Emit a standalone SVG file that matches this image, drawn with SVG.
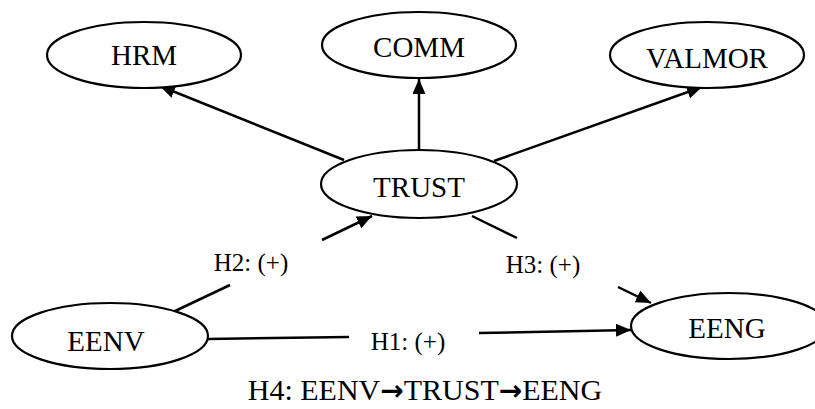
<svg xmlns="http://www.w3.org/2000/svg" width="815" height="409" viewBox="0 0 815 409">
<style>
.node ellipse{fill:#fff;stroke:#000;stroke-width:2.2}
.node text{font-family:"Liberation Serif","Times New Roman",serif;font-size:29px;text-anchor:middle;fill:#000}
.edge line{stroke:#000;stroke-width:2.5}
.lbl{font-family:"Liberation Serif","Times New Roman",serif;font-size:25px;text-anchor:middle;fill:#000}
.cap{font-family:"Liberation Serif","Times New Roman",serif;font-size:30px;text-anchor:middle;fill:#000}
.ar{font-family:"DejaVu Sans",sans-serif;font-weight:bold;font-size:28px}
</style>
<defs>
<marker id="arr" markerUnits="userSpaceOnUse" markerWidth="16" markerHeight="14" refX="15" refY="6.5" orient="auto">
<path d="M0,0 L15,6.5 L0,13 z" fill="#000"/>
</marker>
</defs>
<rect width="815" height="409" fill="#fff"/>
<g id="connectors" class="edge">
<line x1="344" y1="160" x2="160" y2="86" marker-end="url(#arr)"/>
<line x1="419" y1="150" x2="419" y2="79" marker-end="url(#arr)"/>
<line x1="494" y1="161" x2="702" y2="87" marker-end="url(#arr)"/>
<line x1="173" y1="312" x2="230" y2="285"/>
<line x1="322" y1="240" x2="372" y2="216" marker-end="url(#arr)"/>
<line x1="472" y1="216" x2="517" y2="238"/>
<line x1="618" y1="287" x2="651" y2="303" marker-end="url(#arr)"/>
<line x1="208" y1="339" x2="349" y2="337"/>
<line x1="479" y1="333" x2="631" y2="330" marker-end="url(#arr)"/>
</g>
<g id="HRM" class="node"><ellipse cx="144" cy="55" rx="97" ry="33"/><text x="144" y="65">HRM</text></g>
<g id="COMM" class="node"><ellipse cx="419" cy="45" rx="97" ry="33"/><text x="419" y="57">COMM</text></g>
<g id="VALMOR" class="node"><ellipse cx="707" cy="55" rx="97" ry="33"/><text x="707" y="68">VALMOR</text></g>
<g id="TRUST" class="node"><ellipse cx="419" cy="184" rx="98" ry="34"/><text x="419" y="197">TRUST</text></g>
<g id="EENV" class="node"><ellipse cx="110" cy="336" rx="98" ry="33"/><text x="106" y="351">EENV</text></g>
<g id="EENG" class="node"><ellipse cx="729" cy="326" rx="98" ry="33"/><text x="727" y="338">EENG</text></g>
<g id="labels">
<text class="lbl" x="251" y="271">H2: (+)</text>
<text class="lbl" x="543" y="273">H3: (+)</text>
<text class="lbl" x="408" y="350">H1: (+)</text>
<text class="cap" x="425" y="400">H4: EENV<tspan class="ar">→</tspan>TRUST<tspan class="ar">→</tspan>EENG</text>
</g>
</svg>
